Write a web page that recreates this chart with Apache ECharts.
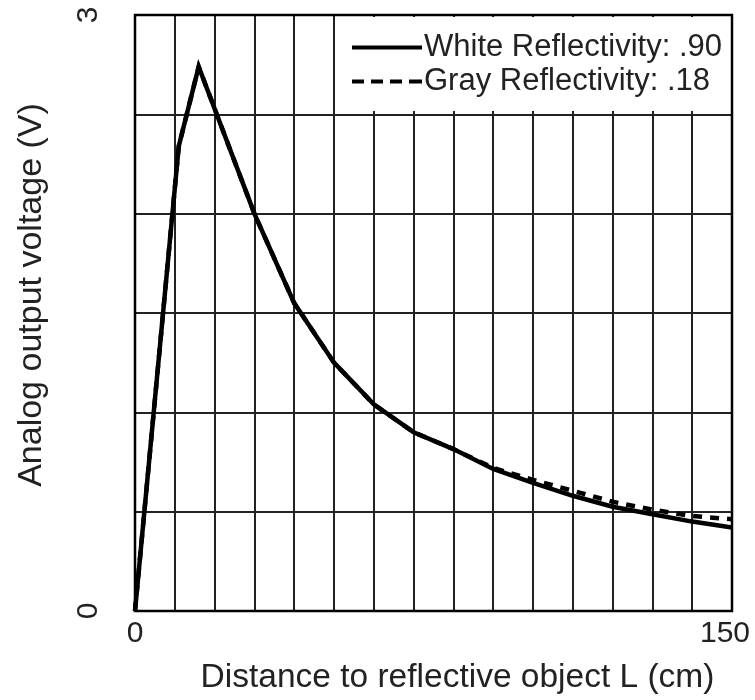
<!DOCTYPE html>
<html>
<head>
<meta charset="utf-8" />
<title>Analog output voltage vs distance</title>
<style>html,body{margin:0;padding:0;background:#fff}#chart{width:755px;height:700px}</style>
<script src="https://cdn.jsdelivr.net/npm/echarts@6/dist/echarts.min.js"></script>
</head>
<body>
<div id="chart"></div>
<script>
// distance (cm) and output voltage (V)
const whiteX = [0, 11, 16, 30, 40, 50, 60, 70, 80, 90, 100, 110, 120, 130, 140, 150];
const whiteY = [0, 2.34, 2.74, 2.0, 1.55, 1.25, 1.04, 0.9, 0.815, 0.715, 0.645, 0.58, 0.525, 0.487, 0.45, 0.42];
const grayX = [0, 11, 16, 30, 40, 50, 60, 70, 80, 90, 100, 110, 120, 130, 140, 150];
const grayY = [0, 2.34, 2.74, 2.0, 1.55, 1.25, 1.04, 0.9, 0.815, 0.72, 0.66, 0.605, 0.55, 0.51, 0.478, 0.462];
const seriesNames = ["White Reflectivity: .90", "Gray Reflectivity: .18"];
const xTickLabels = [0, 150];
const yTickLabels = [0, 3];

const FONT = "Liberation Sans, Arial, sans-serif";
const TXT = "#222";

// legend keys: a solid bar and four dashes
const ICON_SOLID = "path://M0,0H70V4H0Z";
const ICON_DASH = "path://M0,0H12V4H0Z M19,0H31V4H19Z M38,0H50V4H38Z M57,0H70V4H57Z";

const pairs = (xs, ys) => xs.map((x, i) => [x, ys[i]]);

const chart = echarts.init(document.getElementById("chart"), null, { renderer: "canvas" });
chart.setOption({
  animation: false,
  grid: { left: 135, right: 23, top: 15, bottom: 88, show: true, borderColor: "#000", borderWidth: 2.5, z: 3 },
  legend: {
    data: [
      { name: seriesNames[0], icon: ICON_SOLID },
      { name: seriesNames[1], icon: ICON_DASH },
    ],
    orient: "vertical",
    left: 340, top: 17,
    padding: [15, 8, 14, 12],
    itemWidth: 70, itemHeight: 4, itemGap: 3,
    backgroundColor: "#fff",
    itemStyle: { color: "#000", borderWidth: 0 },
    textStyle: { fontFamily: FONT, fontSize: 31, color: TXT, padding: [0, 0, 0, -3] },
  },
  xAxis: {
    type: "value", min: 0, max: 150, interval: 10,
    name: "Distance to reflective object L (cm)",
    nameLocation: "middle", nameGap: 50,
    nameTextStyle: { fontFamily: FONT, fontSize: 33.5, color: TXT, padding: [0, 0, 0, 48] },
    axisLine: { show: false }, axisTick: { show: false },
    splitLine: { lineStyle: { color: "#222", width: 2 } },
    axisLabel: {
      fontFamily: FONT, fontSize: 30, color: TXT, margin: 8,
      formatter: (v) => (xTickLabels.includes(v) ? (v === 150 ? "{e|" + v + "}" : String(v)) : ""),
      rich: { e: { fontFamily: FONT, fontSize: 30, color: TXT, padding: [0, 14, 0, 0] } },
    },
  },
  yAxis: {
    type: "value", min: 0, max: 3, interval: 0.5,
    name: "Analog output voltage (V)",
    nameLocation: "middle", nameGap: 86,
    nameTextStyle: { fontFamily: FONT, fontSize: 34, color: TXT, padding: [0, 0, 0, 36] },
    axisLine: { show: false }, axisTick: { show: false },
    splitLine: { lineStyle: { color: "#222", width: 2 } },
    axisLabel: {
      rotate: 90, margin: 31, fontFamily: FONT, fontSize: 30, color: TXT,
      formatter: (v) => (yTickLabels.includes(v) ? String(v) : ""),
    },
  },
  series: [
    {
      name: seriesNames[1], type: "line", data: pairs(grayX, grayY),
      symbol: "none", lineStyle: { color: "#000", width: 4.5, type: [9, 8], join: "miter" },
      itemStyle: { color: "#000" },
    },
    {
      name: seriesNames[0], type: "line", data: pairs(whiteX, whiteY),
      symbol: "none", lineStyle: { color: "#000", width: 4.5, join: "miter" },
      itemStyle: { color: "#000" },
    },
  ],
});
</script>
</body>
</html>
